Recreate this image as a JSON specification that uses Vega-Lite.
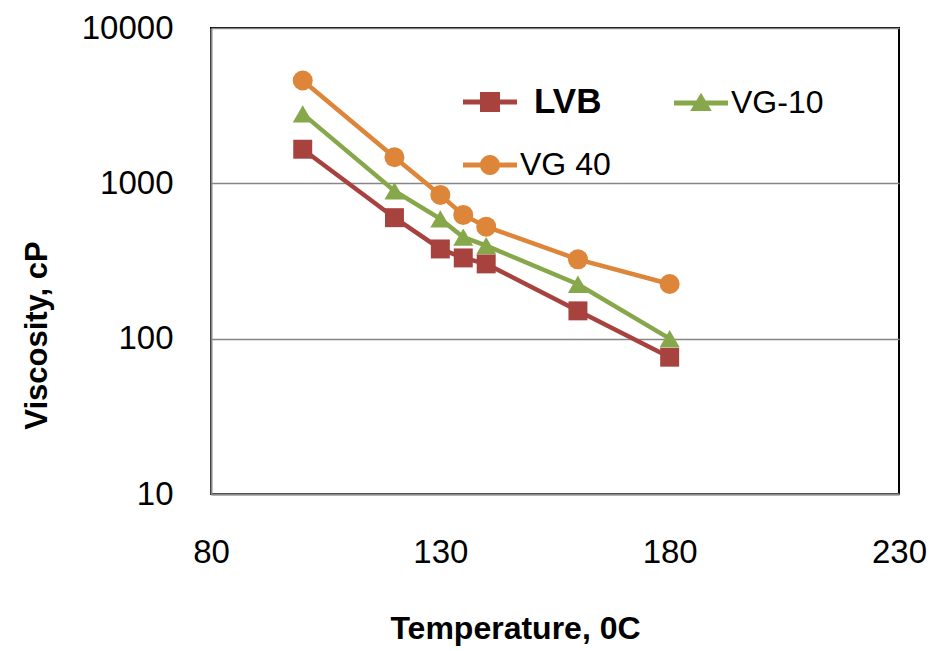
{
  "$schema": "https://vega.github.io/schema/vega-lite/v6.json",
  "autosize": {"type": "none"},
  "padding": {"left": 211, "top": 28, "right": 31, "bottom": 157},
  "width": 688,
  "height": 466,
  "background": "white",
  "config": {
    "view": {"stroke": "black", "strokeWidth": 2, "fill": "white"},
    "font": "Liberation Sans"
  },
  "data": {
    "values": [
      {"series": "LVB", "temp": 100, "visc": 1658},
      {"series": "LVB", "temp": 120, "visc": 601},
      {"series": "LVB", "temp": 130, "visc": 378},
      {"series": "LVB", "temp": 135, "visc": 331},
      {"series": "LVB", "temp": 140, "visc": 303},
      {"series": "LVB", "temp": 160, "visc": 151},
      {"series": "LVB", "temp": 180, "visc": 76},
      {"series": "VG-10", "temp": 100, "visc": 2800},
      {"series": "VG-10", "temp": 120, "visc": 894},
      {"series": "VG-10", "temp": 130, "visc": 590},
      {"series": "VG-10", "temp": 135, "visc": 450},
      {"series": "VG-10", "temp": 140, "visc": 397},
      {"series": "VG-10", "temp": 160, "visc": 224},
      {"series": "VG-10", "temp": 180, "visc": 100},
      {"series": "VG 40", "temp": 100, "visc": 4590},
      {"series": "VG 40", "temp": 120, "visc": 1472},
      {"series": "VG 40", "temp": 130, "visc": 842},
      {"series": "VG 40", "temp": 135, "visc": 626},
      {"series": "VG 40", "temp": 140, "visc": 526},
      {"series": "VG 40", "temp": 160, "visc": 324},
      {"series": "VG 40", "temp": 180, "visc": 225}
    ]
  },
  "encoding": {
    "x": {
      "field": "temp", "type": "quantitative",
      "scale": {"domain": [80, 230], "nice": false, "zero": false},
      "axis": {
        "values": [80, 130, 180, 230],
        "ticks": false, "grid": false,
        "domainColor": "#868686", "domainWidth": 2,
        "labelFont": "Liberation Sans", "labelFontSize": 33, "labelColor": "black",
        "labelPadding": 42, "labelFlush": false,
        "title": "Temperature, 0C",
        "titleFont": "Liberation Sans", "titleFontSize": 32, "titleFontWeight": "bold",
        "titleColor": "black", "titlePadding": 44, "titleX": 304
      }
    },
    "y": {
      "field": "visc", "type": "quantitative",
      "scale": {"type": "log", "domain": [10, 10000], "nice": false},
      "axis": {
        "values": [10, 100, 1000, 10000], "format": "d",
        "ticks": false, "grid": true, "gridColor": "#868686", "gridWidth": 1.5,
        "domainColor": "#868686", "domainWidth": 2,
        "labelFont": "Liberation Sans", "labelFontSize": 33, "labelColor": "black",
        "labelPadding": 38, "labelFlush": false,
        "title": "Viscosity, cP",
        "titleFont": "Liberation Sans", "titleFontSize": 31, "titleFontWeight": "bold",
        "titleColor": "black", "titlePadding": 28, "titleY": 307
      }
    },
    "color": {
      "field": "series", "type": "nominal",
      "scale": {"domain": ["LVB", "VG-10", "VG 40"], "range": ["#A8423F", "#86A84A", "#DD8538"]},
      "legend": {
        "orient": "none", "legendX": 252, "legendY": 47,
        "direction": "horizontal",
        "values": ["LVB", "VG-10", "VG 40"],
        "title": null, "columns": 2, "columnPadding": 63, "rowPadding": 18,
        "padding": 0, "labelOffset": 3,
        "labelFont": "Liberation Sans", "labelFontSize": 32, "labelColor": "black",
        "symbolSize": 2916, "symbolStrokeWidth": 0,
        "encode": {
          "symbols": {
            "update": {
              "shape": {"signal": "datum.value === 'LVB' ? 'M-1,-0.09H1V0.09H-1Z M-0.37,-0.37H0.37V0.37H-0.37Z' : datum.value === 'VG-10' ? 'M-1,-0.09H1V0.09H-1Z M0,-0.38L0.4,0.3H-0.4Z' : 'M-1,-0.09H1V0.09H-1Z M-0.37,0A0.37,0.37 0 1,1 0.37,0A0.37,0.37 0 1,1 -0.37,0Z'"},
              "size": {"value": 2916},
              "fill": {"signal": "scale('color', datum.value)"},
              "stroke": {"value": "transparent"},
              "opacity": {"value": 1}
            }
          },
          "labels": {
            "update": {
              "fontWeight": {"signal": "datum.value === 'LVB' ? 'bold' : 'normal'"},
              "fontSize": {"signal": "datum.value === 'LVB' ? 35 : 32"},
              "dx": {"signal": "datum.value === 'LVB' ? 14 : 0"}
            }
          }
        }
      }
    }
  },
  "layer": [
    {
      "mark": {"type": "line", "strokeWidth": 4.5}
    },
    {
      "transform": [{"filter": "datum.series === 'LVB'"}],
      "mark": {"type": "point", "shape": "square", "filled": true, "opacity": 1, "size": 360}
    },
    {
      "transform": [{"filter": "datum.series === 'VG-10'"}],
      "mark": {"type": "point", "shape": "triangle-up", "filled": true, "opacity": 1, "size": 400}
    },
    {
      "transform": [{"filter": "datum.series === 'VG 40'"}],
      "mark": {"type": "point", "shape": "circle", "filled": true, "opacity": 1, "size": 400}
    }
  ]
}
